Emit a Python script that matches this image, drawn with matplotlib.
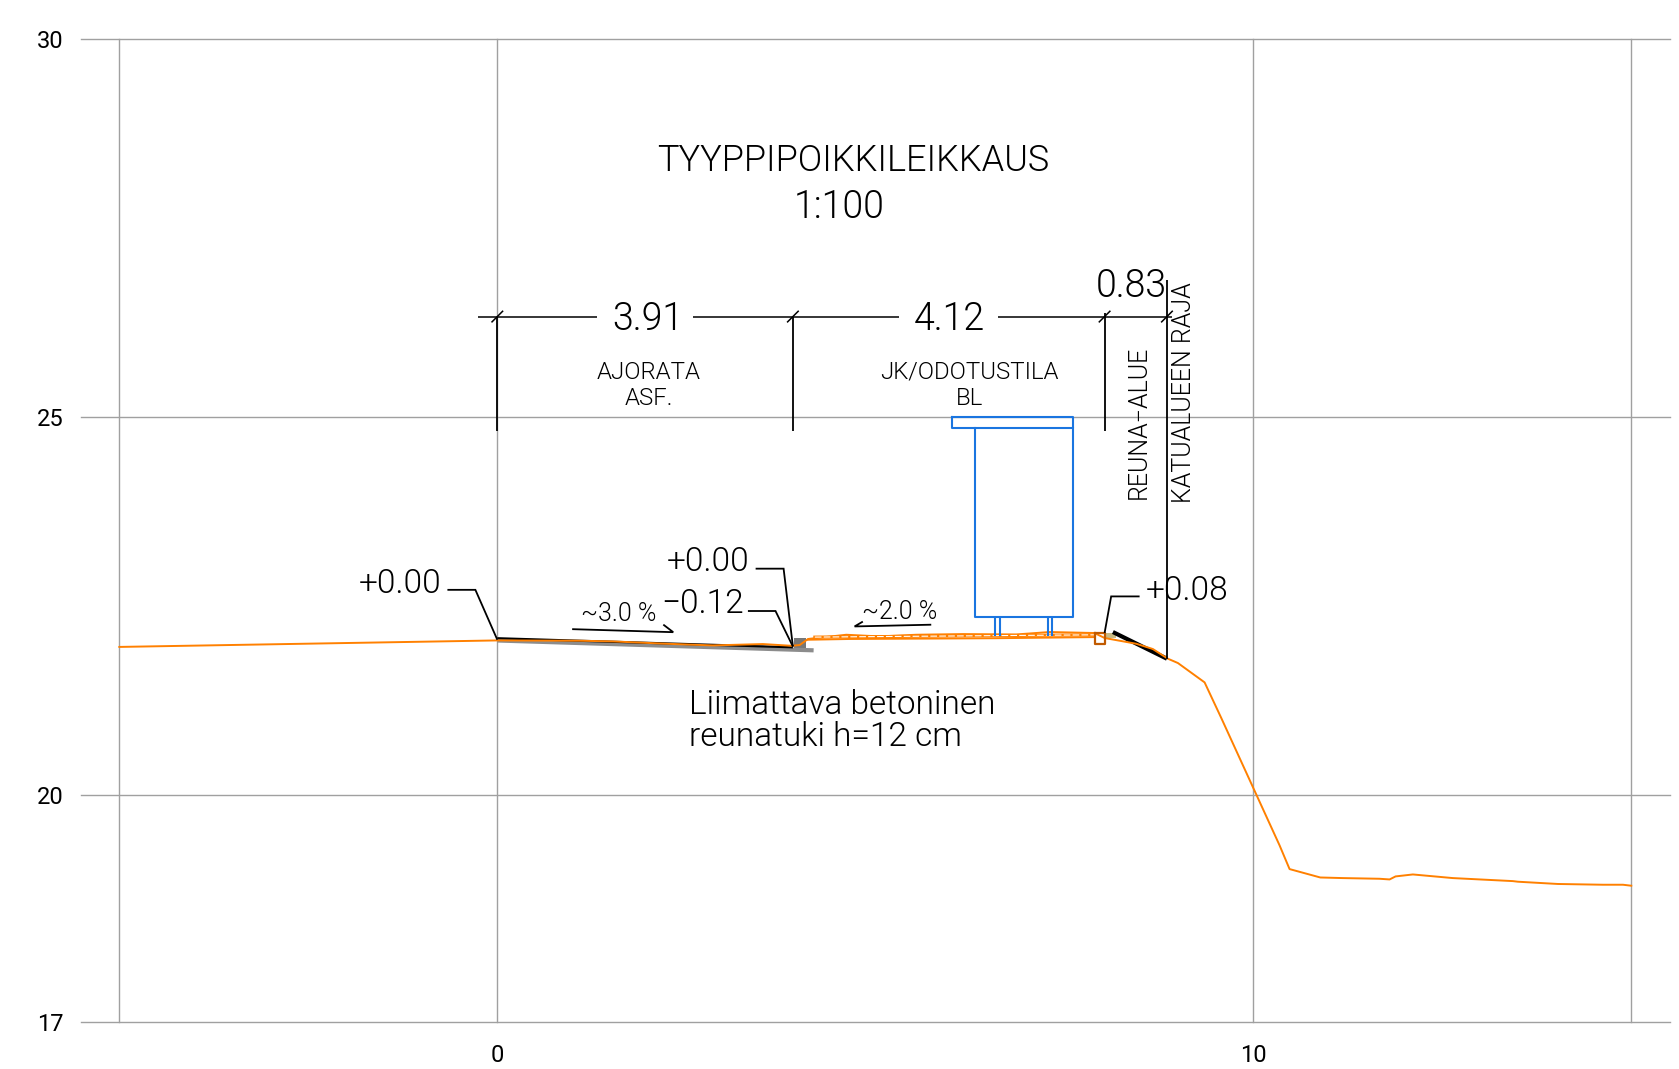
import matplotlib
matplotlib.use("Agg")
import matplotlib.pyplot as plt

W, H = 1679, 1069
CAD = ['Roboto', 'DejaVu Sans']
TICK = ['Roboto', 'DejaVu Sans']

x_ticks = [-5, 0, 10, 15]
x_tick_labels = ['', '0', '10', '']
y_ticks = [17, 20, 25, 30]

ground_x = [-5, 0, 1.089, 1.53, 2.235, 2.85, 3.513, 3.889, 4.0, 4.11, 4.616, 5.057, 5.54, 6.16, 6.865, 7.306, 7.9, 8.033, 8.452, 8.672, 8.871, 9.003, 9.356, 9.577, 10.348, 10.48, 10.886, 11.185, 11.67, 11.803, 11.882, 12.111, 12.64, 13.434, 13.5, 14.03, 14.625, 14.89, 15]
ground_y = [21.955, 22.041, 22.037, 22.028, 21.997, 21.975, 21.993, 21.97, 21.98, 22.06, 22.116, 22.094, 22.116, 22.125, 22.12, 22.152, 22.139, 22.073, 21.997, 21.927, 21.799, 21.742, 21.486, 21.014, 19.33, 19.017, 18.906, 18.898, 18.889, 18.88, 18.92, 18.946, 18.898, 18.858, 18.85, 18.82, 18.81, 18.81, 18.797]
walk_low_x = [4.11, 4.66, 6.58, 7.9]
walk_low_y = [22.05, 22.06, 22.07, 22.085]
walk_mid_x = [4.2, 7.9]
walk_mid_y = [22.085, 22.115]

road_x = [0, 3.91]
road_y = [22.07, 21.95]
base_x = [0, 4.184]
base_y = [22.04, 21.91]
curb_x = [3.93, 4.087, 4.087, 3.93]
curb_y = [22.07, 22.07, 21.94, 21.94]
shoulder_x = [8.143, 8.858]
shoulder_y = [22.152, 21.799]
tan_x = [8.04, 8.18, 8.18, 8.04]
tan_y = [22.14, 22.14, 22.07, 22.07]

sign_top_x = [6.013, 7.613, 7.613, 6.013, 6.013]
sign_top_y = [25, 25, 24.844, 24.844, 25]
sign_body_x = [6.317, 6.317, 7.613, 7.613]
sign_body_y = [24.844, 22.35, 22.35, 24.844]
sign_leg_x = [6.582, 6.644, 7.283, 7.342]
sign_leg_top = 22.35
sign_leg_bottom = 22.1
box_x = [7.91, 8.042, 8.042, 7.91, 7.91]
box_y = [22.139, 22.139, 21.993, 21.993, 22.139]

leaders = [
    ([-0.66, -0.29, 0], [22.71, 22.71, 22.05]),
    ([3.417, 3.787, 3.91], [22.99, 22.99, 21.96]),
    ([3.315, 3.68, 3.91], [22.43, 22.43, 21.96]),
    ([8.496, 8.12, 8.033], [22.623, 22.623, 22.139]),
    ([0.99, 2.327, 2.196], [22.19, 22.15, 22.25]),
    ([5.74, 4.726, 4.835], [22.249, 22.226, 22.29]),
]
dim_y = 26.324
dim_segments = [(-0.262, 1.324), (2.585, 5.319), (6.62, 8.93)]
dim_marks = [0, 3.91, 8.033, 8.858]
ext_tops = [26.324, 26.324, 26.37, 26.81]
ext_bottoms = [24.81, 24.81, 24.81, 21.8]
tick_half = 0.077

labels = [
    ('TYYPPIPOIKKILEIKKAUS', 4.71, 28.38, 26, 0),
    ('1:100', 4.526, 27.77, 27, 0),
    ('3.91', 1.99, 26.29, 27, 0),
    ('4.12', 5.98, 26.29, 27, 0),
    ('0.83', 8.38, 26.72, 27, 0),
    ('AJORATA', 2.0, 25.585, 17.3, 0),
    ('ASF.', 2.0, 25.245, 17.3, 0),
    ('JK/ODOTUSTILA', 6.25, 25.585, 17.3, 0),
    ('BL', 6.25, 25.245, 17.3, 0),
    ('REUNA\u2212ALUE', 8.49, 24.93, 18, 90),
    ('KATUALUEEN RAJA', 9.08, 25.32, 18, 90),
    ('+0.00', -1.28, 22.79, 24, 0),
    ('+0.00', 2.786, 23.08, 24, 0),
    ('\u22120.12', 2.72, 22.52, 24, 0),
    ('+0.08', 9.12, 22.70, 24, 0),
    ('~3.0 %', 1.6, 22.39, 18, 0),
    ('~2.0 %', 5.32, 22.42, 18, 0),
]
note_lines = [('Liimattava betoninen', 2.54, 21.19), ('reunatuki h=12 cm', 2.54, 20.76)]

fig = plt.figure(figsize=(W / 100, H / 100), dpi=100, facecolor='white')
ax = fig.add_axes([81.3 / W, 1 - 1021.6 / H, (1670 - 81.7) / W, (1022 - 39) / H])
ax.set_xlim(-5.503, 15.507)
ax.set_ylim(17, 30)
for s in ax.spines.values():
    s.set_visible(False)
ax.set_xticks(x_ticks, x_tick_labels, family=TICK, fontsize=17)
ax.set_yticks(y_ticks, [str(v) for v in y_ticks], family=TICK, fontsize=17)
ax.tick_params(axis='x', length=0, pad=16)
ax.tick_params(axis='y', length=0, pad=13)
ax.grid(True, color='#a0a0a0', lw=1.0, clip_on=False)
ax.set_axisbelow(True)
for g in ax.get_xgridlines() + ax.get_ygridlines():
    g.set_clip_on(False)

K = dict(color='black', solid_capstyle='butt', solid_joinstyle='miter', clip_on=False)
ax.plot(base_x, base_y, color='#8c8c8c', lw=3.0, solid_capstyle='butt')
ax.fill(curb_x, curb_y, color='#777777', lw=0)
ax.fill(tan_x, tan_y, color='#c9bb84', lw=0)
ax.plot(road_x, road_y, lw=1.6, **K)
ax.plot(shoulder_x, shoulder_y, lw=3.0, **K)

ORANGE = '#ff8000'
ax.plot(ground_x, ground_y, color=ORANGE, lw=1.4)
ax.plot(walk_low_x, walk_low_y, color=ORANGE, lw=1.4)
ax.plot(walk_mid_x, walk_mid_y, color=ORANGE, lw=2.2)
ax.plot(walk_mid_x, walk_mid_y, color='white', lw=0.8, ls=(0, (6, 2)))
ax.plot(box_x, box_y, color='#c05a00', lw=1.6)

BLUE = '#1a75e0'
ax.plot(sign_top_x, sign_top_y, color=BLUE, lw=1.5)
ax.plot(sign_body_x, sign_body_y, color=BLUE, lw=1.5)
ax.vlines(sign_leg_x, sign_leg_bottom, sign_leg_top, color=BLUE, lw=1.5)

for lx, ly in leaders:
    ax.plot(lx, ly, lw=1.3, **K)
for a, b in dim_segments:
    ax.plot([a, b], [dim_y, dim_y], lw=1.1, **K)
for m, top, bot in zip(dim_marks, ext_tops, ext_bottoms):
    ax.plot([m, m], [bot, top], lw=1.3, **K)
    ax.plot([m - tick_half, m + tick_half], [dim_y - tick_half, dim_y + tick_half], lw=1.1, **K)

for txt, tx, ty, fs, rot in labels:
    ax.text(tx, ty, txt, ha='center', va='center', fontsize=fs, rotation=rot,
            family=CAD, weight=300, color='black')
for txt, tx, ty in note_lines:
    ax.text(tx, ty, txt, ha='left', va='center', fontsize=24, family=CAD, weight=300, color='black')

fig.savefig('out.png', dpi=100, facecolor='white')
